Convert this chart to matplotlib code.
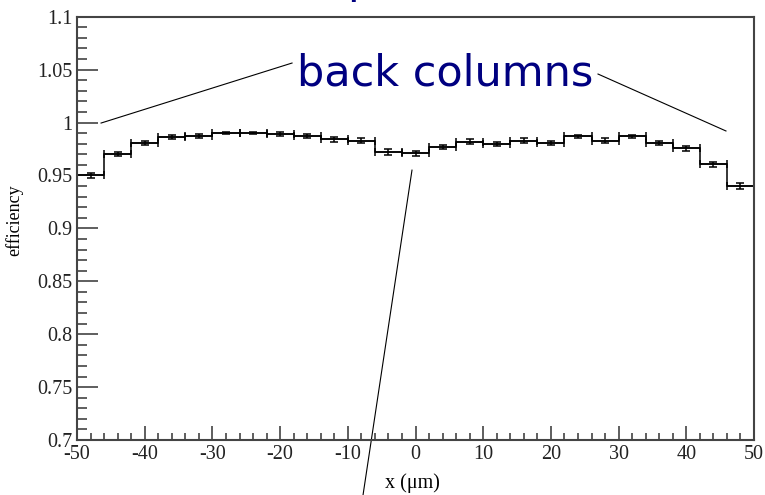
import numpy as np
import matplotlib
matplotlib.use("Agg")
import matplotlib.pyplot as plt
from matplotlib.ticker import MultipleLocator, FixedLocator, FixedFormatter

# 25 bins of 4 um from -50 to 50
bin_edges = np.arange(-50, 51, 4)
efficiency = [0.950, 0.970, 0.981, 0.986, 0.987, 0.990, 0.990, 0.989, 0.987,
              0.984, 0.983, 0.972, 0.971, 0.977, 0.982, 0.980, 0.983, 0.981,
              0.987, 0.983, 0.987, 0.981, 0.9755, 0.9605, 0.940]
eff_err = [0.0025, 0.002, 0.002, 0.002, 0.002, 0.0012, 0.0012, 0.002, 0.002,
           0.002, 0.002, 0.0025, 0.0025, 0.002, 0.002, 0.002, 0.002, 0.002,
           0.0012, 0.002, 0.0012, 0.002, 0.002, 0.0025, 0.003]

y_ticks = [0.7, 0.75, 0.8, 0.85, 0.9, 0.95, 1.0, 1.05, 1.1]
y_ticklabels = ["0.7", "0.75", "0.8", "0.85", "0.9", "0.95", "1", "1.05", "1.1"]
x_ticks = [-50, -40, -30, -20, -10, 0, 10, 20, 30, 40, 50]
x_ticklabels = ["-50", "-40", "-30", "-20", "-10", "0", "10", "20", "30", "40", "50"]

SERIF = "Liberation Serif"
NAVY = "#000080"

fig = plt.figure(figsize=(7.65, 4.95), dpi=100)
ax = fig.add_axes([0.1007, 0.1111, 0.8849, 0.8552])

centers = (bin_edges[:-1] + bin_edges[1:]) / 2
half_w = np.diff(bin_edges) / 2

# step outline (vertical connectors) + ROOT-like E1 bars
ax.stairs(efficiency, bin_edges, baseline=None, color="black", lw=1.1)
ax.errorbar(centers, efficiency, xerr=half_w, yerr=eff_err, fmt="none",
            ecolor="black", elinewidth=1.1, capsize=2.6, capthick=1.1)

ax.set_xlim(-50, 50)
ax.set_ylim(0.7, 1.1)

ax.xaxis.set_major_locator(FixedLocator(x_ticks))
ax.xaxis.set_major_formatter(FixedFormatter(x_ticklabels))
ax.xaxis.set_minor_locator(MultipleLocator(2))
ax.yaxis.set_major_locator(FixedLocator(y_ticks))
ax.yaxis.set_major_formatter(FixedFormatter(y_ticklabels))
ax.yaxis.set_minor_locator(MultipleLocator(0.01))

ax.tick_params(axis="both", which="both", direction="in", color="#333333",
               width=1.1, top=False, right=False)
ax.tick_params(axis="y", which="major", length=15, pad=3.5)
ax.tick_params(axis="y", which="minor", length=7.5)
ax.tick_params(axis="x", which="major", length=10, pad=3.5)
ax.tick_params(axis="x", which="minor", length=5)
for lab in ax.get_xticklabels() + ax.get_yticklabels():
    lab.set_fontfamily(SERIF)
    lab.set_fontsize(14.5)
    lab.set_color("#222222")

for side in ("left", "bottom", "top", "right"):
    ax.spines[side].set_linewidth(1.5)
    ax.spines[side].set_color("#444444")

ax.set_xlabel("x (\u03bcm)", fontfamily=SERIF, fontsize=14.5, labelpad=3)
ax.xaxis.set_label_coords(0.495, -0.078)
ax.set_ylabel("efficiency", fontfamily=SERIF, fontsize=13)
ax.yaxis.set_label_coords(-0.08, 0.52)

# annotations
ax.text(4.4, 1.0354, "back columns", color=NAVY, fontsize=31,
        family="DejaVu Sans", ha="center", va="baseline")
ax.plot([-46.45, -18.24], [0.9995, 1.0562], color="black", lw=0.8)
ax.plot([26.96, 45.86], [1.0458, 0.992], color="black", lw=0.8)
ax.plot([-0.52, -7.76], [0.955, 0.6477], color="black", lw=0.8, clip_on=False)

# clipped descender of a label above the frame
fig.text(0.4536, 1.014, "p", color=NAVY, fontsize=31, family="DejaVu Sans",
         ha="left", va="baseline")

fig.savefig("out.png", dpi=100)
